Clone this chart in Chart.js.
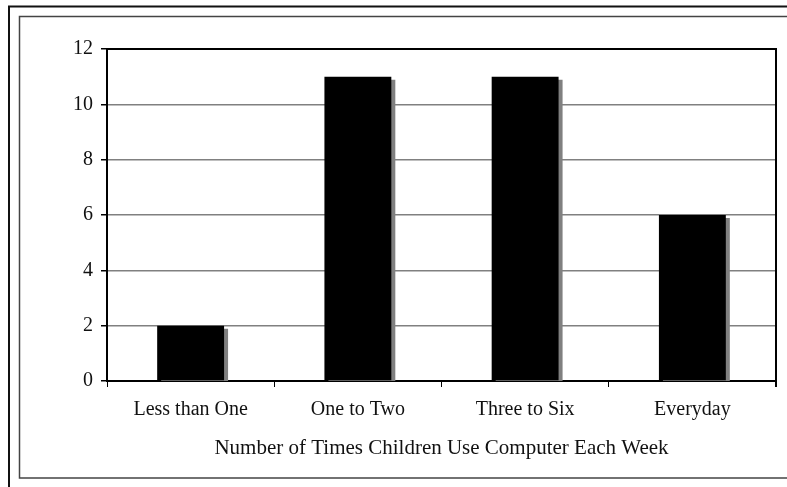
<!DOCTYPE html>
<html>
<head>
<meta charset="utf-8">
<script src="https://cdn.jsdelivr.net/npm/chart.js@4/dist/chart.umd.min.js"></script>
<style>
  html, body { margin: 0; padding: 0; background: #fff; }
  #wrap { width: 787px; height: 487px; position: relative; }
</style>
</head>
<body>
<div id="wrap"><canvas id="c" width="787" height="487"></canvas></div>
<script>
// Weekly computer use by children
const categories = ['Less than One', 'One to Two', 'Three to Six', 'Everyday'];
const counts = [2, 11, 11, 6];
const yTicks = [0, 2, 4, 6, 8, 10, 12];
const xTitle = 'Number of Times Children Use Computer Each Week';

const FONT = "'Liberation Serif', 'Times New Roman', serif";

// Outer double frame and the plot box's top/right edges
const framePlugin = {
  id: 'frame',
  beforeDraw(chart) {
    const ctx = chart.ctx;
    ctx.save();
    ctx.fillStyle = '#fff';
    ctx.fillRect(0, 0, chart.width, chart.height);
    ctx.strokeStyle = '#111';
    ctx.lineWidth = 2;
    ctx.beginPath();
    ctx.moveTo(9, chart.height + 5);
    ctx.lineTo(9, 6.5);
    ctx.lineTo(chart.width + 5, 6.5);
    ctx.stroke();
    ctx.strokeStyle = '#444';
    ctx.lineWidth = 1.5;
    ctx.beginPath();
    ctx.moveTo(chart.width + 5, 16.5);
    ctx.lineTo(19.5, 16.5);
    ctx.lineTo(19.5, 478);
    ctx.lineTo(chart.width + 5, 478);
    ctx.stroke();
    ctx.restore();
  },
  afterDraw(chart) {
    const a = chart.chartArea, ctx = chart.ctx;
    ctx.save();
    ctx.strokeStyle = '#000';
    ctx.lineWidth = 2;
    ctx.beginPath();
    ctx.moveTo(a.left, a.top);
    ctx.lineTo(a.right, a.top);
    ctx.lineTo(a.right, a.bottom + 6);
    ctx.stroke();
    ctx.restore();
  }
};

// Hard grey drop shadow behind the bars
const shadowPlugin = {
  id: 'barShadow',
  beforeDatasetDraw(chart) {
    const ctx = chart.ctx;
    ctx.save();
    ctx.shadowColor = '#808080';
    ctx.shadowBlur = 0;
    ctx.shadowOffsetX = 4;
    ctx.shadowOffsetY = 3;
  },
  afterDatasetDraw(chart) {
    chart.ctx.restore();
  }
};

new Chart(document.getElementById('c'), {
  type: 'bar',
  data: {
    labels: categories,
    datasets: [{
      data: counts,
      backgroundColor: '#000',
      borderWidth: 0,
      categoryPercentage: 1,
      barPercentage: 0.4,
      clip: 0
    }]
  },
  options: {
    responsive: false,
    animation: false,
    devicePixelRatio: 1,
    layout: { padding: { left: 0, top: 49, right: 11, bottom: 0 } },
    plugins: { legend: { display: false }, tooltip: { enabled: false } },
    scales: {
      x: {
        grid: { offset: true, drawOnChartArea: false, color: '#000', tickLength: 6, lineWidth: 1 },
        border: { color: '#000', width: 2 },
        ticks: { color: '#111', font: { family: FONT, size: 20 }, padding: 11, maxRotation: 0 },
        title: { display: true, text: xTitle, color: '#111', font: { family: FONT, size: 21 }, padding: { top: 12, bottom: 26 } },
        afterFit(scale) { scale.height = 106; }
      },
      y: {
        min: 0,
        max: 12,
        afterBuildTicks(scale) { scale.ticks = yTicks.map(v => ({ value: v })); },
        grid: { color: '#808080', lineWidth: 1.5, tickLength: 6, tickColor: '#000' },
        border: { color: '#000', width: 2 },
        ticks: { color: '#111', font: { family: FONT, size: 20 }, padding: 8 },
        afterFit(scale) { scale.width = 107; }
      }
    }
  },
  plugins: [framePlugin, shadowPlugin]
});
</script>
</body>
</html>
